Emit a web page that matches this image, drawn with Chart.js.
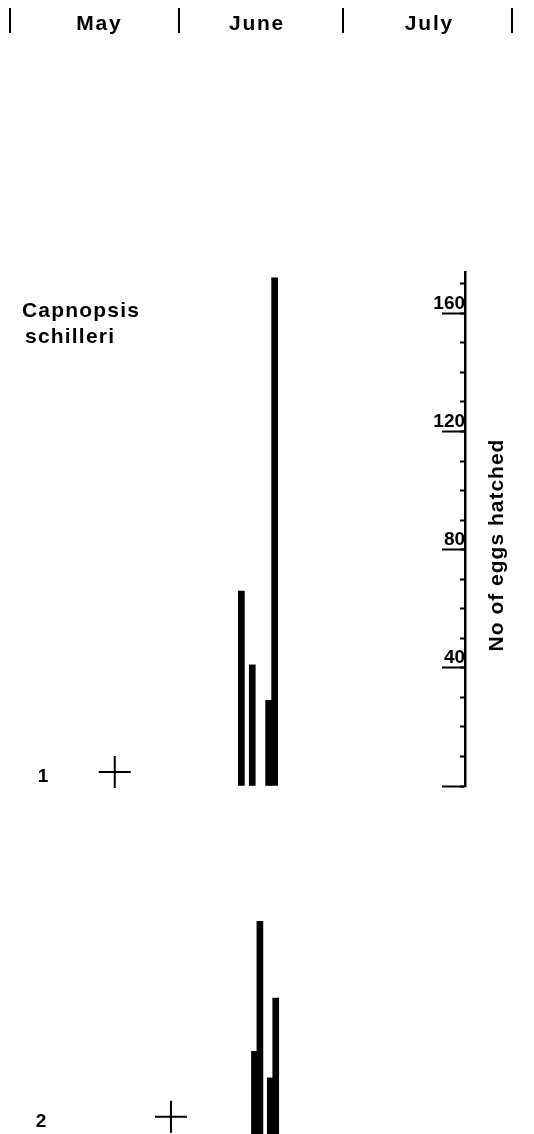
<!DOCTYPE html>
<html>
<head>
<meta charset="utf-8">
<title>Capnopsis schilleri - eggs hatched</title>
<script src="https://cdn.jsdelivr.net/npm/chart.js@4.4.1/dist/chart.umd.min.js"></script>
<style>
  html, body { margin: 0; padding: 0; background: #fff; }
  #wrap { position: relative; width: 534px; height: 1134px; background: #fff; }
  #wrap canvas { position: absolute; left: 0; top: 0; }
</style>
</head>
<body>
<div id="wrap">
  <canvas id="months" width="534" height="1134"></canvas>
  <canvas id="panel1" width="534" height="1134"></canvas>
  <canvas id="panel2" width="534" height="1134"></canvas>
</div>
<script>
// days counted from 1 May (1 June = 31, 1 July = 61, 1 Aug = 92)
var monthNames = ['May', 'June', 'July'];
var monthStarts = [0, 31, 61, 92];
var monthLabelDays = [16.2, 45.1, 76.7];

// stream 1
var days1 = [42.4, 44.4, 47.4, 48.5];
var eggs1 = [66, 41, 29, 172];

// stream 2
var days2 = [44.8, 45.8, 47.7, 48.7];
var eggs2 = [28, 72, 19, 46];

// "+" markers, one per stream
var crossDays = [19.2, 29.5];
var crossLevel = [4.7, 5.8];

// y axis (No of eggs hatched)
var yMax = 174;
var yMajorTicks = [0, 40, 80, 120, 160];
var yMinorTicks = [0, 10, 20, 30, 40, 50, 60, 70, 80, 90, 100, 110, 120, 130, 140, 150, 160, 170];

var FONT = '"Liberation Sans", Arial, Helvetica, sans-serif';
Chart.defaults.font.family = FONT;
Chart.defaults.color = '#000';

// plain text drawn on top of a chart (species name, stream numbers, axis title)
var textPlugin = {
    id: 'sketchText',
    afterDraw: function (chart, args, opts) {
        var ctx = chart.ctx;
        (opts.items || []).forEach(function (t) {
            ctx.save();
            ctx.font = 'bold ' + t.size + 'px ' + FONT;
            ctx.fillStyle = '#000';
            ctx.textAlign = t.align || 'left';
            ctx.textBaseline = 'middle';
            if (t.spacing) ctx.letterSpacing = t.spacing + 'px';
            ctx.translate(t.x, t.y);
            if (t.rotate) ctx.rotate(t.rotate);
            ctx.fillText(t.text, 0, 0);
            ctx.restore();
        });
    }
};

// header: month separators and names
new Chart(document.getElementById('months'), {
    type: 'scatter',
    data: { datasets: [] },
    options: {
        responsive: false,
        animation: false,
        events: [],
        layout: { autoPadding: false, padding: { left: 10, right: 22, top: 8, bottom: 1101 } },
        plugins: { legend: { display: false }, tooltip: { enabled: false } },
        scales: {
            x: {
                type: 'linear',
                min: 0,
                max: 92,
                position: 'bottom',
                afterBuildTicks: function (axis) {
                    axis.ticks = monthStarts.concat(monthLabelDays).sort(function (a, b) { return a - b; })
                        .map(function (v) { return { value: v }; });
                },
                afterFit: function (axis) { axis.height = 0; },
                grid: {
                    drawTicks: false,
                    lineWidth: 2,
                    color: function (c) {
                        return c.tick && monthStarts.indexOf(c.tick.value) >= 0 ? '#000' : 'rgba(0,0,0,0)';
                    }
                },
                border: { display: false },
                ticks: {
                    autoSkip: false,
                    maxRotation: 0,
                    mirror: true,
                    padding: 0,
                    font: { size: 21, weight: 'bold', lineHeight: '18px' },
                    callback: function (v) {
                        var i = monthLabelDays.indexOf(v);
                        return i >= 0 ? monthNames[i].split('').join(String.fromCharCode(8202)) : '';
                    }
                }
            },
            y: { display: false, min: 0, max: 1 }
        }
    }
});

function panelConfig(days, eggs, k, padTop, padBottom, showAxis, texts) {
    var bars = [];
    for (var i = 0; i < days.length; i++) bars.push({ x: days[i], y: eggs[i] });

    var scales = {
        x: { type: 'linear', min: 0, max: 92, offset: false, display: false },
        y: {
            type: 'linear',
            min: 0,
            max: yMax,
            display: showAxis,
            position: { x: 83.4 },
            afterBuildTicks: function (axis) {
                axis.ticks = yMajorTicks.map(function (v) { return { value: v }; });
            },
            grid: { drawOnChartArea: false, tickLength: 22, tickWidth: 2, tickColor: '#000' },
            border: { display: true, color: '#000', width: 2.5 },
            ticks: {
                padding: -20,
                labelOffset: -10,
                font: { size: 19, weight: 'bold' },
                callback: function (v) { return v === 0 ? '' : String(v); }
            }
        }
    };
    if (showAxis) {
        scales.yMinor = {
            type: 'linear',
            axis: 'y',
            min: 0,
            max: yMax,
            position: { x: 83.4 },
            afterBuildTicks: function (axis) {
                axis.ticks = yMinorTicks.map(function (v) { return { value: v }; });
            },
            grid: { drawOnChartArea: false, tickLength: 5, tickWidth: 2, tickColor: '#000' },
            border: { display: false },
            ticks: { display: false }
        };
    }

    return {
        type: 'bar',
        data: {
            datasets: [{
                type: 'bar',
                data: bars,
                backgroundColor: '#000',
                borderWidth: 0,
                barThickness: 6
            }, {
                type: 'scatter',
                data: [{ x: crossDays[k], y: crossLevel[k] }],
                pointStyle: 'cross',
                radius: 16,
                borderWidth: 2,
                borderColor: '#000',
                backgroundColor: '#000',
                clip: false
            }]
        },
        options: {
            responsive: false,
            animation: false,
            events: [],
            layout: { autoPadding: false, padding: { left: 10, right: 22, top: padTop, bottom: padBottom } },
            plugins: {
                legend: { display: false },
                tooltip: { enabled: false },
                sketchText: { items: texts }
            },
            scales: scales
        },
        plugins: [textPlugin]
    };
}

new Chart(document.getElementById('panel1'), panelConfig(days1, eggs1, 0, 272, 348, true, [
    { text: 'Capnopsis', x: 22, y: 311, size: 21, spacing: 1.2 },
    { text: 'schilleri', x: 25, y: 337, size: 21, spacing: 1.2 },
    { text: '1', x: 43, y: 777, size: 19, align: 'center' },
    { text: 'No of eggs hatched', x: 497, y: 545, size: 21, spacing: 1, align: 'center', rotate: -Math.PI / 2 }
]));

new Chart(document.getElementById('panel2'), panelConfig(days2, eggs2, 1, 620, 0, false, [
    { text: '2', x: 41, y: 1122, size: 19, align: 'center' }
]));
</script>
</body>
</html>
